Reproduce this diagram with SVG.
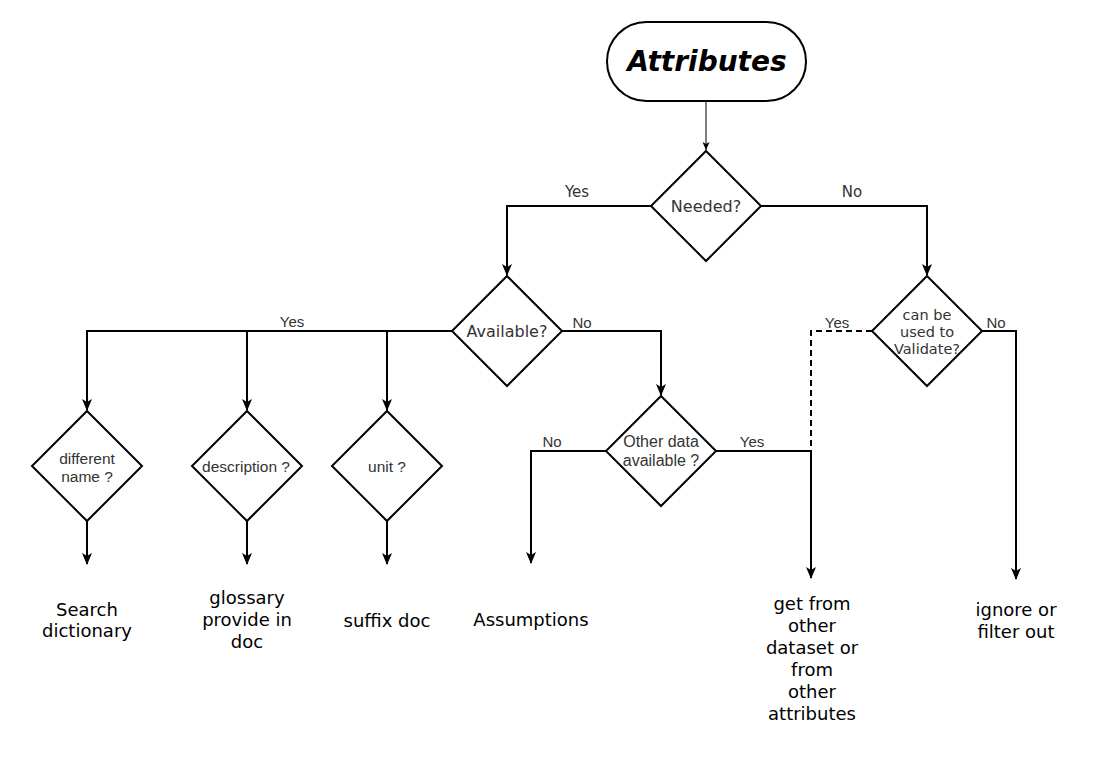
<svg xmlns="http://www.w3.org/2000/svg" width="1102" height="760" viewBox="0 0 1102 760">
<style>
.shape{fill:#fff;stroke:#000;stroke-width:2}
.ln{fill:none;stroke:#000;stroke-width:2}
.dash{fill:none;stroke:#000;stroke-width:2;stroke-dasharray:6 4}
.dj{font-family:"DejaVu Sans",sans-serif;fill:#333;text-anchor:middle}
.ar{font-family:"Liberation Sans",Arial,sans-serif;fill:#333;text-anchor:middle}
.out{font-family:"DejaVu Sans",sans-serif;font-size:18px;fill:#000;text-anchor:middle}
</style>
<defs>
<marker id="arr" markerUnits="userSpaceOnUse" markerWidth="12" markerHeight="12" viewBox="0 0 12 12" refX="11" refY="6" orient="auto">
<path d="M0,1 L12,6 L0,11 L3,6 Z" fill="#000"/>
</marker>
<marker id="arrs" markerUnits="userSpaceOnUse" markerWidth="8" markerHeight="8" viewBox="0 0 8 8" refX="8" refY="4" orient="auto">
<path d="M0,0.5 L8,4 L0,7.5 L2,4 Z" fill="#000"/>
</marker>
</defs>
<rect width="1102" height="760" fill="#fff"/>
<g id="connectors">
<line x1="706" y1="101" x2="706" y2="150" stroke="#000" stroke-width="1" marker-end="url(#arrs)"/>
<polyline class="ln" points="651,206 507,206 507,275" marker-end="url(#arr)"/>
<polyline class="ln" points="761,206 927,206 927,275" marker-end="url(#arr)"/>
<polyline class="ln" points="452,331 87,331 87,410" marker-end="url(#arr)"/>
<polyline class="ln" points="247,331 247,410" marker-end="url(#arr)"/>
<polyline class="ln" points="387,331 387,410" marker-end="url(#arr)"/>
<polyline class="ln" points="562,331 661,331 661,395" marker-end="url(#arr)"/>
<line class="ln" x1="87" y1="521" x2="87" y2="564" marker-end="url(#arr)"/>
<line class="ln" x1="247" y1="521" x2="247" y2="564" marker-end="url(#arr)"/>
<line class="ln" x1="387" y1="521" x2="387" y2="564" marker-end="url(#arr)"/>
<polyline class="ln" points="606,451 531,451 531,563" marker-end="url(#arr)"/>
<polyline class="ln" points="716,451 811,451 811,578" marker-end="url(#arr)"/>
<polyline class="dash" points="872,331 811,331 811,451"/>
<polyline class="ln" points="982,331 1016,331 1016,579" marker-end="url(#arr)"/>
<text class="dj" x="577" y="197" font-size="15">Yes</text>
<text class="dj" x="852" y="197" font-size="15">No</text>
<text class="ar" x="292" y="327" font-size="15">Yes</text>
<text class="ar" x="582" y="328" font-size="15">No</text>
<text class="ar" x="552" y="447" font-size="15">No</text>
<text class="ar" x="752" y="447" font-size="15">Yes</text>
<text class="ar" x="837" y="328" font-size="15">Yes</text>
<text class="ar" x="996" y="328" font-size="15">No</text>
</g>
<g id="attributes">
<rect class="shape" x="607" y="22" width="199" height="79" rx="39.5" ry="39.5"/>
<text class="dj" x="707" y="71" font-size="28" font-weight="bold" font-style="italic" style="fill:#000">Attributes</text>
</g>
<g id="needed">
<polygon class="shape" points="706,151 761,206 706,261 651,206"/>
<text class="dj" x="706" y="212" font-size="16">Needed?</text>
</g>
<g id="available">
<polygon class="shape" points="507,276 562,331 507,386 452,331"/>
<text class="dj" x="507" y="337" font-size="16">Available?</text>
</g>
<g id="validate">
<polygon class="shape" points="927,276 982,331 927,386 872,331"/>
<text class="dj" x="927" y="320" font-size="14.5">can be</text>
<text class="dj" x="927" y="337" font-size="14.5">used to</text>
<text class="dj" x="927" y="354" font-size="14.5">Validate?</text>
</g>
<g id="different-name">
<polygon class="shape" points="87,411 142,466 87,521 32,466"/>
<text class="ar" x="87" y="464" font-size="15.5">different</text>
<text class="ar" x="87" y="482" font-size="15.5">name ?</text>
</g>
<g id="description">
<polygon class="shape" points="247,411 302,466 247,521 192,466"/>
<text class="ar" x="246" y="472" font-size="15.5">description ?</text>
</g>
<g id="unit">
<polygon class="shape" points="387,411 442,466 387,521 332,466"/>
<text class="ar" x="387" y="472" font-size="15.5">unit ?</text>
</g>
<g id="other-data">
<polygon class="shape" points="661,396 716,451 661,506 606,451"/>
<text class="ar" x="661" y="447" font-size="16">Other data</text>
<text class="ar" x="661" y="466" font-size="16">available ?</text>
</g>
<g id="search-dictionary">
<text class="out" x="87" y="616">Search</text>
<text class="out" x="87" y="637">dictionary</text>
</g>
<g id="glossary">
<text class="out" x="247" y="604">glossary</text>
<text class="out" x="247" y="626">provide in</text>
<text class="out" x="247" y="648">doc</text>
</g>
<g id="suffix-doc">
<text class="out" x="387" y="627">suffix doc</text>
</g>
<g id="assumptions">
<text class="out" x="531" y="626">Assumptions</text>
</g>
<g id="get-from-other">
<text class="out" x="812" y="610">get from</text>
<text class="out" x="812" y="632">other</text>
<text class="out" x="812" y="654">dataset or</text>
<text class="out" x="812" y="676">from</text>
<text class="out" x="812" y="698">other</text>
<text class="out" x="812" y="720">attributes</text>
</g>
<g id="ignore">
<text class="out" x="1016" y="616">ignore or</text>
<text class="out" x="1016" y="638">filter out</text>
</g>
</svg>
